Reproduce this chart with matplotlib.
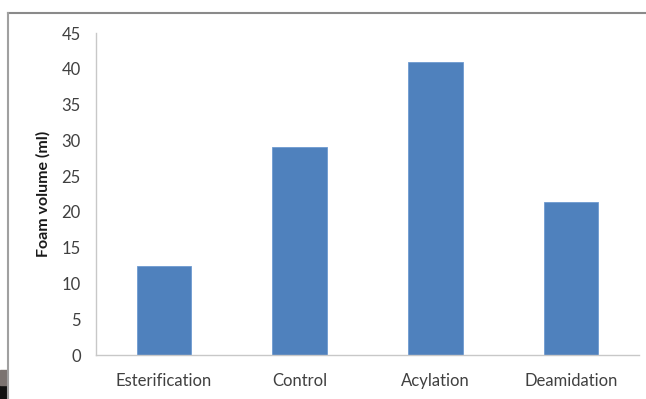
import matplotlib.pyplot as plt
from matplotlib.patches import Rectangle
from matplotlib.lines import Line2D

categories = ["Esterification", "Control", "Acylation", "Deamidation"]
foam_volume = [12.4, 29.0, 41.0, 21.4]
y_ticks = [0, 5, 10, 15, 20, 25, 30, 35, 40, 45]

plt.rcParams['font.family'] = ['Lato', 'DejaVu Sans']

W, H = 646, 399
fig = plt.figure(figsize=(W / 100, H / 100), dpi=100)
fig.patch.set_facecolor("white")

# frame of the chart area
fig.add_artist(Line2D([8 / W, 1], [1 - 13 / H, 1 - 13 / H], color="#8a8a8a", lw=1.5,
                      transform=fig.transFigure))
fig.add_artist(Line2D([8 / W, 8 / W], [0, 1 - 13 / H], color="#a0a0a0", lw=1.5,
                      transform=fig.transFigure))
fig.add_artist(Rectangle((0, 0), 7 / W, 14 / H, color="#111111", transform=fig.transFigure))
fig.add_artist(Rectangle((0, 14 / H), 7 / W, 15 / H, color="#7b7370", transform=fig.transFigure))

ax = fig.add_axes([96 / W, 1 - 355 / H, (639 - 96) / W, (355 - 33) / H])
x = range(len(categories))
ax.bar(x, foam_volume, width=0.4, color="#4F81BD", edgecolor="#6f9ad0", linewidth=0.6)

ax.set_xlim(-0.5, len(categories) - 0.5)
ax.set_ylim(0, 45)
ax.set_yticks(y_ticks)
ax.set_xticks(list(x))
ax.set_xticklabels(categories)
ax.tick_params(axis="both", length=0, labelsize=12, colors="#404040")
ax.tick_params(axis="x", pad=13)
ax.tick_params(axis="y", pad=11)

for side in ("top", "right"):
    ax.spines[side].set_visible(False)
for side in ("left", "bottom"):
    ax.spines[side].set_color("#c8c8c8")
    ax.spines[side].set_linewidth(1.0)

ax.set_ylabel("Foam volume (ml)", fontsize=11.5, fontweight="bold", color="#1a1a1a", labelpad=7.5)

fig.savefig("out.png", dpi=100)
